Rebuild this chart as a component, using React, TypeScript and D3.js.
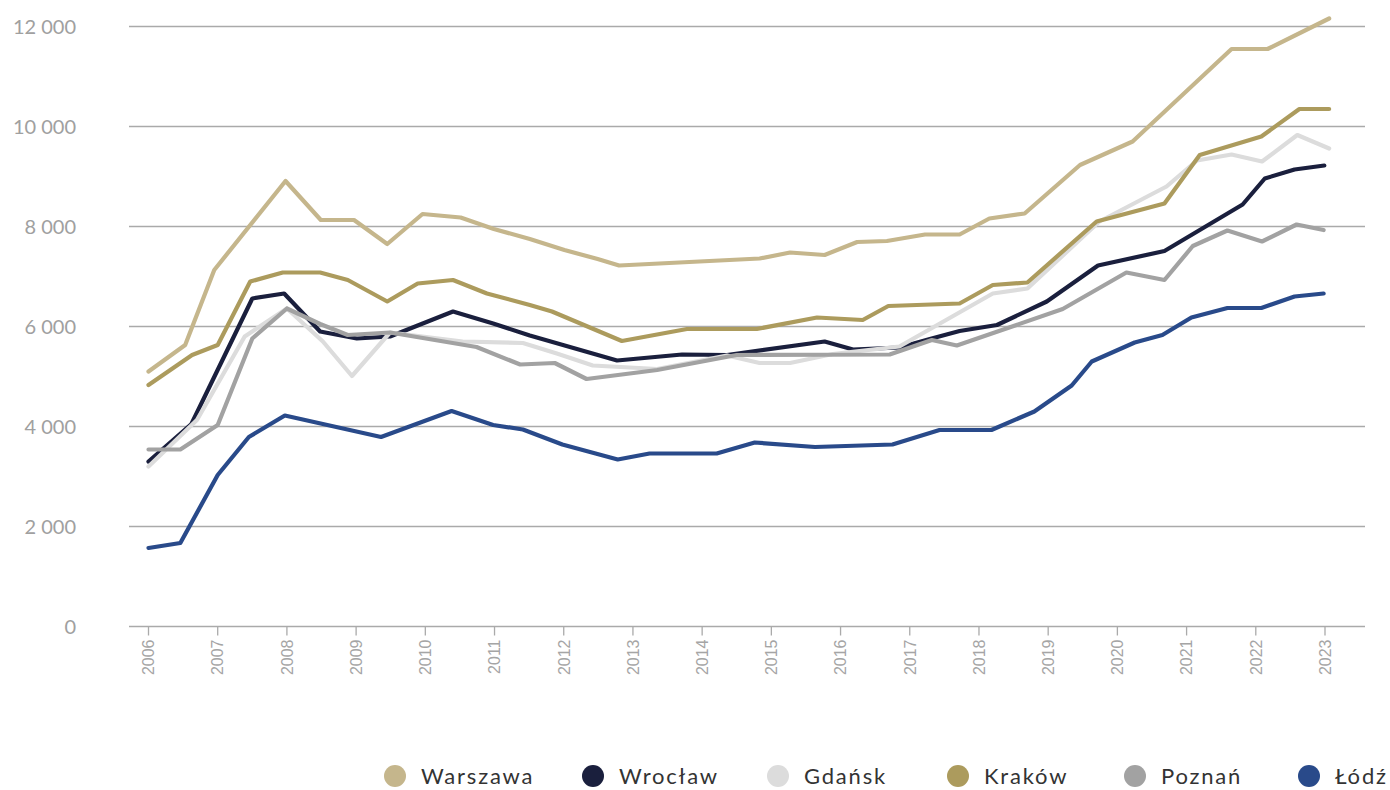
import React from "react";
import * as d3 from "d3";

// ---- data ----
const yearTicks: number[] = [2006, 2007, 2008, 2009, 2010, 2011, 2012, 2013, 2014, 2015, 2016, 2017, 2018, 2019, 2020, 2021, 2022, 2023];
const valueTicks: number[] = [0, 2000, 4000, 6000, 8000, 10000, 12000];
const seriesNames: string[] = ["Warszawa", "Wrocław", "Gdańsk", "Kraków", "Poznań", "Łódź"];

const warszawa: [number, number][] = [
  [2006.0, 5100], [2006.53, 5630], [2006.95, 7130], [2007.98, 8910], [2008.49, 8130], [2008.97, 8130],
  [2009.45, 7650], [2009.96, 8250], [2010.51, 8180], [2010.99, 7950], [2011.51, 7750], [2012.01, 7530],
  [2012.49, 7350], [2012.8, 7220], [2014.83, 7360], [2015.27, 7480], [2015.77, 7430], [2016.24, 7690],
  [2016.67, 7710], [2017.22, 7840], [2017.72, 7840], [2018.15, 8160], [2018.66, 8260], [2019.46, 9230],
  [2020.22, 9700], [2021.65, 11550], [2022.17, 11550], [2023.06, 12160],
];
const wroclaw: [number, number][] = [
  [2006.0, 3300], [2006.62, 4050], [2007.5, 6560], [2007.96, 6660], [2008.48, 5900], [2009.01, 5760],
  [2009.49, 5800], [2010.4, 6300], [2010.98, 6060], [2011.51, 5820], [2012.77, 5320], [2013.71, 5440],
  [2014.36, 5430], [2015.77, 5700], [2016.18, 5540], [2016.85, 5580], [2017.29, 5750], [2017.72, 5910],
  [2018.26, 6030], [2018.98, 6500], [2019.72, 7220], [2020.68, 7510], [2021.81, 8440], [2022.13, 8960],
  [2022.56, 9140], [2022.99, 9220],
];
const gdansk: [number, number][] = [
  [2006.0, 3200], [2006.7, 4130], [2007.39, 5800], [2008.0, 6360], [2008.52, 5700], [2008.94, 5010],
  [2009.49, 5880], [2010.54, 5700], [2011.41, 5670], [2011.9, 5460], [2012.42, 5220], [2013.35, 5150],
  [2014.36, 5420], [2014.83, 5270], [2015.27, 5270], [2015.89, 5450], [2016.85, 5600], [2018.2, 6660],
  [2018.7, 6760], [2019.74, 8100], [2020.71, 8800], [2021.15, 9320], [2021.65, 9440], [2022.09, 9300],
  [2022.6, 9830], [2023.06, 9560],
];
const krakow: [number, number][] = [
  [2006.0, 4830], [2006.63, 5430], [2007.0, 5630], [2007.47, 6900], [2007.94, 7080], [2008.48, 7080],
  [2008.88, 6930], [2009.45, 6500], [2009.89, 6860], [2010.4, 6930], [2010.89, 6660], [2011.51, 6430],
  [2011.83, 6300], [2012.84, 5710], [2013.78, 5950], [2014.79, 5950], [2015.66, 6180], [2016.32, 6130],
  [2016.69, 6410], [2017.72, 6460], [2018.2, 6830], [2018.7, 6880], [2019.7, 8100], [2020.68, 8460],
  [2021.19, 9430], [2022.08, 9800], [2022.63, 10350], [2023.06, 10350],
];
const poznan: [number, number][] = [
  [2006.0, 3540], [2006.46, 3540], [2007.0, 4030], [2007.5, 5760], [2008.0, 6360], [2008.48, 6050],
  [2008.88, 5830], [2009.49, 5880], [2010.74, 5590], [2011.37, 5240], [2011.87, 5270], [2012.33, 4950],
  [2013.35, 5130], [2014.5, 5430], [2016.71, 5440], [2017.32, 5730], [2017.68, 5620], [2019.21, 6350],
  [2020.13, 7080], [2020.68, 6930], [2021.09, 7610], [2021.59, 7920], [2022.09, 7700], [2022.59, 8040],
  [2022.98, 7930],
];
const lodz: [number, number][] = [
  [2006.0, 1570], [2006.46, 1670], [2007.0, 3030], [2007.45, 3790], [2007.97, 4220], [2009.36, 3790],
  [2010.38, 4310], [2010.98, 4030], [2011.41, 3940], [2011.98, 3640], [2012.78, 3340], [2013.24, 3460],
  [2014.21, 3460], [2014.76, 3680], [2015.63, 3590], [2016.75, 3640], [2017.43, 3930], [2018.18, 3930],
  [2018.8, 4300], [2019.34, 4820], [2019.63, 5300], [2020.25, 5680], [2020.65, 5830], [2021.07, 6180],
  [2021.59, 6370], [2022.08, 6370], [2022.56, 6600], [2022.98, 6660],
];

const seriesData: [number, number][][] = [warszawa, wroclaw, gdansk, krakow, poznan, lodz];

// ---- styles / layout ----
const colors = ["#c5b68c", "#1a1f3d", "#dcdcdc", "#ac9b5d", "#a2a2a2", "#294a8a"];
const W = 1390;
const H = 790;
const plotLeft = 129;
const plotRight = 1365;
const legendCx = [395, 593, 778, 958, 1135, 1309];
const legendY = 776;

const fmt = d3.formatLocale({ decimal: ",", thousands: "\u00a0", grouping: [3], currency: ["", " zł"] }).format(",d");

export default function App() {
  const x = d3.scaleLinear().domain([2006, 2023]).range([148.5, 1325]);
  const y = d3.scaleLinear().domain([0, 12000]).range([626.5, 26.5]);
  const line = d3
    .line<[number, number]>()
    .x((d) => x(d[0]))
    .y((d) => y(d[1]));

  return (
    <div style={{ position: "absolute", left: 0, top: 0, width: W, height: H, background: "#fff" }}>
      <svg width={W} height={H} style={{ display: "block" }}>
        {/* gridlines */}
        {valueTicks.map((v) => (
          <line key={"g" + v} x1={plotLeft} x2={plotRight} y1={y(v)} y2={y(v)} stroke="#aaaaaa" strokeWidth={1.3} />
        ))}
        {/* y labels */}
        {valueTicks.map((v) => (
          <text
            key={"yl" + v}
            x={76}
            y={y(v)}
            dy="0.36em"
            textAnchor="end"
            fontFamily="Lato, 'Open Sans', sans-serif"
            fontSize={20}
            fill="#a0a0a0"
          >
            {fmt(v)}
          </text>
        ))}
        {/* x ticks and labels */}
        {yearTicks.map((t) => (
          <g key={"xt" + t} transform={`translate(${x(t)},0)`}>
            <line y1={y(0)} y2={y(0) + 9} stroke="#aaaaaa" strokeWidth={1.3} />
            <text
              transform={`translate(0,${y(0) + 13}) rotate(-90)`}
              textAnchor="end"
              dy="0.36em"
              fontFamily="'Liberation Sans', Arial, sans-serif"
              fontSize={16}
              fill="#a5a5a5"
            >
              {t}
            </text>
          </g>
        ))}
        {/* lines */}
        {seriesData.map((d, i) => (
          <path
            key={"s" + i}
            d={line(d) || ""}
            fill="none"
            stroke={colors[i]}
            strokeWidth={4.2}
            strokeLinejoin="round"
            strokeLinecap="round"
          />
        ))}
        {/* legend */}
        {seriesNames.map((name, i) => (
          <g key={"lg" + i}>
            <circle cx={legendCx[i]} cy={legendY} r={11} fill={colors[i]} />
            <text
              x={legendCx[i] + 26}
              y={legendY}
              dy="0.36em"
              fontFamily="Lato, 'Open Sans', sans-serif"
              fontSize={22}
              letterSpacing={1.8}
              fill="#333333"
            >
              {name}
            </text>
          </g>
        ))}
      </svg>
    </div>
  );
}
